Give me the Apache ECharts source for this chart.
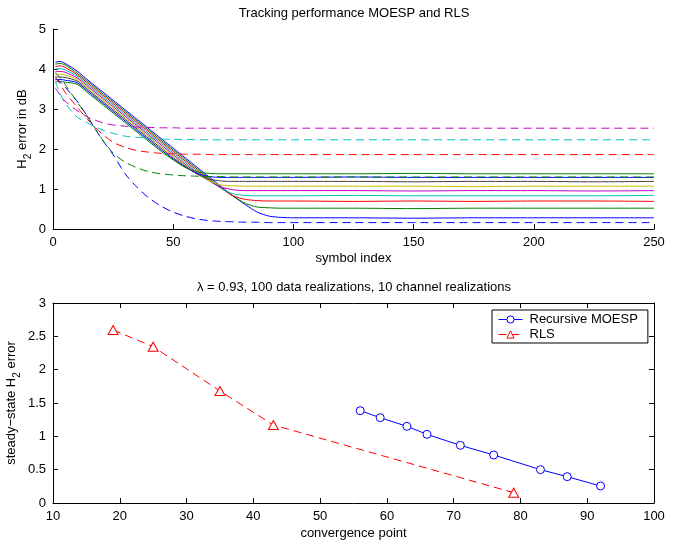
<!DOCTYPE html>
<html><head><meta charset="utf-8">
<script src="https://cdn.jsdelivr.net/npm/echarts@6/dist/echarts.min.js"></script>
<style>html,body{margin:0;padding:0;background:#fff}#c{width:680px;height:542px}</style>
</head><body><div id="c"></div>
<script>
// ---- top plot: tracking curves (x = symbol index) ----
const symbolIndex = [1,3,5,10,15,20,25,30,35,40,45,50,55,60,65,70,75,80,85,90,95,100,125,150,175,200,225,250];
// Recursive MOESP (solid)
const moespBlue1  = [4.17,4.19,4.14,3.95,3.70,3.46,3.22,2.98,2.74,2.50,2.26,2.02,1.78,1.54,1.30,1.06,0.82,0.61,0.42,0.32,0.29,0.28,0.28,0.27,0.28,0.28,0.28,0.28];
const moespGreen1 = [4.12,4.14,4.10,3.90,3.66,3.42,3.18,2.94,2.70,2.46,2.22,1.98,1.74,1.50,1.26,1.02,0.82,0.64,0.55,0.53,0.52,0.52,0.52,0.51,0.52,0.52,0.52,0.52];
const moespRed    = [4.06,4.08,4.04,3.86,3.62,3.38,3.14,2.90,2.66,2.42,2.18,1.94,1.70,1.46,1.22,1.02,0.83,0.74,0.71,0.70,0.70,0.70,0.69,0.70,0.69,0.70,0.70,0.69];
const moespCyan   = [4.00,4.01,3.98,3.82,3.58,3.34,3.10,2.86,2.62,2.38,2.14,1.90,1.66,1.42,1.21,1.01,0.88,0.84,0.83,0.83,0.83,0.83,0.84,0.83,0.83,0.83,0.83,0.84];
const moespMag    = [3.93,3.94,3.92,3.78,3.54,3.30,3.06,2.82,2.58,2.34,2.10,1.86,1.62,1.40,1.20,1.05,0.98,0.96,0.96,0.96,0.96,0.96,0.96,0.95,0.96,0.96,0.95,0.96];
const moespYellow = [3.87,3.87,3.85,3.74,3.50,3.26,3.02,2.78,2.54,2.30,2.06,1.82,1.59,1.38,1.20,1.10,1.08,1.07,1.07,1.07,1.07,1.07,1.07,1.07,1.06,1.07,1.07,1.07];
const moespBlack  = [3.80,3.80,3.79,3.70,3.46,3.22,2.98,2.74,2.50,2.26,2.02,1.78,1.57,1.37,1.25,1.20,1.19,1.19,1.19,1.19,1.19,1.19,1.19,1.18,1.19,1.19,1.18,1.19];
const moespBlue2  = [3.73,3.74,3.72,3.66,3.42,3.18,2.94,2.70,2.46,2.22,1.98,1.75,1.55,1.39,1.31,1.29,1.29,1.29,1.29,1.29,1.29,1.29,1.30,1.29,1.29,1.29,1.29,1.29];
const moespGreen2 = [3.67,3.69,3.67,3.62,3.38,3.14,2.90,2.66,2.42,2.18,1.94,1.73,1.54,1.43,1.39,1.38,1.38,1.38,1.38,1.38,1.38,1.38,1.38,1.39,1.38,1.38,1.38,1.38];
// RLS (dashed)
const rlsBlue  = [3.75,3.68,3.55,3.20,2.75,2.27,1.86,1.38,1.04,0.77,0.57,0.42,0.32,0.25,0.21,0.19,0.18,0.17,0.17,0.16,0.16,0.16,0.16,0.16,0.16,0.16,0.16,0.16];
const rlsGreen = [3.90,3.78,3.62,3.18,2.75,2.28,1.90,1.67,1.53,1.43,1.38,1.35,1.33,1.32,1.31,1.31,1.30,1.30,1.30,1.30,1.30,1.30,1.30,1.30,1.30,1.30,1.30,1.30];
const rlsRed   = [3.80,3.62,3.42,3.05,2.70,2.40,2.17,2.04,1.96,1.92,1.89,1.88,1.87,1.87,1.86,1.86,1.86,1.86,1.86,1.86,1.86,1.86,1.86,1.86,1.86,1.86,1.86,1.86];
const rlsCyan  = [3.68,3.38,3.15,2.80,2.63,2.49,2.39,2.32,2.29,2.27,2.25,2.24,2.24,2.23,2.23,2.23,2.23,2.23,2.23,2.23,2.23,2.23,2.23,2.23,2.23,2.23,2.23,2.23];
const rlsMag   = [3.52,3.35,3.20,2.96,2.78,2.67,2.60,2.57,2.55,2.54,2.53,2.53,2.52,2.52,2.52,2.52,2.52,2.52,2.52,2.52,2.52,2.52,2.52,2.52,2.52,2.52,2.52,2.52];

// ---- bottom plot: steady-state error vs convergence point ----
const moespConv  = [56,59,63,66,71,76,83,87,92];
const moespError = [1.385,1.28,1.15,1.03,0.865,0.72,0.50,0.395,0.255];
const rlsConv    = [19,25,35,43,79];
const rlsError   = [2.595,2.345,1.68,1.17,0.155];

const topTicksX = [0,250,50];
const topTicksY = [0,5,1];
const botTicksX = [10,100,10];
const botTicksY = [0,3,0.5];

const FONT = 'Liberation Sans, Arial, Helvetica, sans-serif';
const COL = {b:'#0000ff', g:'#008000', r:'#ff0000', c:'#00bfbf', m:'#bf00bf', y:'#bfbf00', k:'#404040'};

const pair = (xs, ys) => xs.map((x, i) => [x, ys[i]]);

function track(ys, color, dashed) {
  return {
    type: 'line', xAxisIndex: 0, yAxisIndex: 0, data: pair(symbolIndex, ys),
    showSymbol: false, symbol: 'none', smooth: 0.25, silent: true,
    lineStyle: {color: color, width: 1, type: dashed ? [8,5] : 'solid'},
    itemStyle: {color: color}
  };
}

function axisBase(extra) {
  return Object.assign({
    type: 'value',
    nameMoveOverlap: false,
    axisLine: {show: true, onZero: false, lineStyle: {color: '#000', width: 1}},
    axisTick: {show: true, inside: true, length: 5, lineStyle: {color: '#000', width: 1}},
    axisLabel: {color: '#000', fontSize: 13, fontFamily: FONT, margin: 7},
    splitLine: {show: false},
    nameTextStyle: {color: '#000', fontSize: 13, fontFamily: FONT}
  }, extra);
}

const subRich = {
  n: {fontSize: 13, fontFamily: FONT, color: '#000'},
  s: {fontSize: 10, fontFamily: FONT, color: '#000', padding: [11,0,0,0]}
};

const chart = echarts.init(document.getElementById('c'), null, {renderer: 'canvas'});
chart.setOption({
  animation: false,
  backgroundColor: '#fff',
  graphic: [
    {type: 'text', x: 354, y: 13, style: {text: 'Tracking performance MOESP and RLS', fill: '#000',
      font: '13px ' + FONT, textAlign: 'center', textVerticalAlign: 'middle'}},
    {type: 'text', x: 354, y: 287, style: {text: 'λ = 0.93, 100 data realizations, 10 channel realizations', fill: '#000',
      font: '13px ' + FONT, textAlign: 'center', textVerticalAlign: 'middle'}}
  ],
  grid: [
    {left: 53, right: 26, top: 29, height: 200, outerBoundsMode: 'none', containLabel: false},
    {left: 53, right: 26, top: 303, height: 200, outerBoundsMode: 'none', containLabel: false}
  ],
  xAxis: [
    axisBase({gridIndex: 0, min: topTicksX[0], max: topTicksX[1], interval: topTicksX[2],
      name: 'symbol index', nameLocation: 'middle', nameGap: 23}),
    axisBase({gridIndex: 1, min: botTicksX[0], max: botTicksX[1], interval: botTicksX[2],
      name: 'convergence point', nameLocation: 'middle', nameGap: 24}),
    axisBase({gridIndex: 1, position: 'top', min: botTicksX[0], max: botTicksX[1], interval: botTicksX[2],
      axisLabel: {show: false}})
  ],
  yAxis: [
    axisBase({gridIndex: 0, min: topTicksY[0], max: topTicksY[1], interval: topTicksY[2],
      name: '{n|H}{s|2}{n| error in dB}', nameLocation: 'middle', nameGap: 20,
      nameTextStyle: {color: '#000', fontSize: 13, fontFamily: FONT, rich: subRich}}),
    axisBase({gridIndex: 1, min: botTicksY[0], max: botTicksY[1], interval: botTicksY[2],
      name: '{n|steady−state H}{s|2}{n| error}', nameLocation: 'middle', nameGap: 31,
      nameTextStyle: {color: '#000', fontSize: 13, fontFamily: FONT, rich: subRich}}),
    axisBase({gridIndex: 1, position: 'right', min: botTicksY[0], max: botTicksY[1], interval: botTicksY[2],
      axisLabel: {show: false}})
  ],
  legend: {
    show: true, left: 492, top: 310, orient: 'vertical',
    data: ['Recursive MOESP', 'RLS'],
    backgroundColor: '#fff', borderColor: '#000', borderWidth: 1, borderRadius: 0,
    padding: [3, 10, 2, 6], itemGap: 2, itemWidth: 24, itemHeight: 9,
    lineStyle: {width: 1},
    itemStyle: {borderWidth: 1},
    textStyle: {color: '#000', fontSize: 13, fontFamily: FONT, lineHeight: 13, padding: [0,0,0,2]}
  },
  series: [
    track(moespBlue1, COL.b, false),
    track(moespGreen1, COL.g, false),
    track(moespRed, COL.r, false),
    track(moespCyan, COL.c, false),
    track(moespMag, COL.m, false),
    track(moespYellow, COL.y, false),
    track(moespBlack, COL.k, false),
    track(moespBlue2, COL.b, false),
    track(moespGreen2, COL.g, false),
    track(rlsBlue, COL.b, true),
    track(rlsGreen, COL.g, true),
    track(rlsRed, COL.r, true),
    track(rlsCyan, COL.c, true),
    track(rlsMag, COL.m, true),
    {
      name: 'Recursive MOESP', type: 'line', xAxisIndex: 1, yAxisIndex: 1,
      data: pair(moespConv, moespError), symbol: 'circle', symbolSize: 8, showSymbol: true,
      lineStyle: {color: COL.b, width: 1}, itemStyle: {color: '#fff', borderColor: COL.b, borderWidth: 1}
    },
    {
      name: 'RLS', type: 'line', xAxisIndex: 1, yAxisIndex: 1,
      data: pair(rlsConv, rlsError), symbol: 'triangle', symbolSize: [10, 9], showSymbol: true,
      lineStyle: {color: COL.r, width: 1, type: [8,5]}, itemStyle: {color: '#fff', borderColor: COL.r, borderWidth: 1}
    }
  ]
});
</script>
</body></html>
